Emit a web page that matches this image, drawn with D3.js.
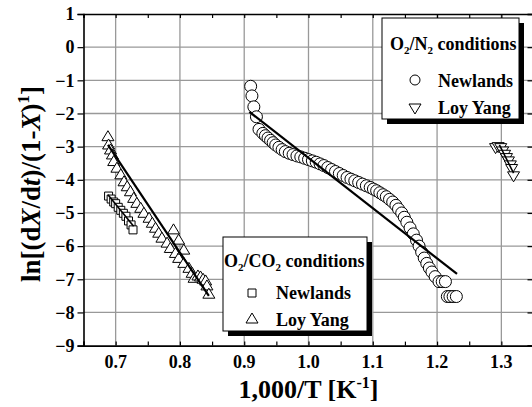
<!DOCTYPE html>
<html>
<head>
<meta charset="utf-8">
<script src="https://cdn.jsdelivr.net/npm/d3@7"></script>
<style>
  body { margin: 0; background: #fff; }
  svg text { font-family: "Liberation Serif", "Times New Roman", serif; font-weight: bold; }
</style>
</head>
<body>
<svg id="chart" width="532" height="407"></svg>
<script>
// ---- data ----
// O2/N2, Newlands (circles)
let n2NewX = [0.910, 0.912, 0.915, 0.919, 0.923, 0.929, 0.933, 0.937, 0.941, 0.945, 0.949, 0.954, 0.959, 0.964,
              0.970, 0.976, 0.982, 0.988, 0.994, 1.000, 1.006, 1.012, 1.018, 1.024, 1.030, 1.036, 1.042, 1.048,
              1.054, 1.060, 1.066, 1.072, 1.078, 1.084, 1.090, 1.096, 1.101, 1.106, 1.111, 1.116, 1.121, 1.126,
              1.131, 1.136, 1.140, 1.145, 1.149, 1.153, 1.158, 1.163, 1.168, 1.172, 1.176, 1.180, 1.184, 1.188,
              1.192, 1.197, 1.203, 1.208, 1.213, 1.216, 1.220, 1.225, 1.230];
let n2NewY = [-1.18, -1.47, -1.80, -2.10, -2.48, -2.60, -2.67, -2.74, -2.81, -2.88, -2.95, -3.02, -3.09, -3.15,
              -3.20, -3.24, -3.28, -3.31, -3.35, -3.39, -3.43, -3.47, -3.52, -3.57, -3.63, -3.69, -3.75, -3.81,
              -3.87, -3.93, -3.98, -4.03, -4.08, -4.13, -4.18, -4.23, -4.28, -4.33, -4.39, -4.45, -4.51, -4.59,
              -4.67, -4.77, -4.88, -5.00, -5.13, -5.28, -5.45, -5.63, -5.82, -6.00, -6.18, -6.36, -6.52, -6.66,
              -6.78, -6.92, -7.07, -7.07, -7.07, -7.52, -7.52, -7.52, -7.52];

// O2/N2, Loy Yang (down triangles)
let n2LoyX = [1.291, 1.295, 1.299, 1.302, 1.305, 1.308, 1.311, 1.314, 1.316, 1.319];
let n2LoyY = [-3.03, -3.00, -3.03, -3.13, -3.23, -3.33, -3.43, -3.55, -3.66, -3.88];

// O2/CO2, Newlands (squares)
let co2NewX = [0.689, 0.693, 0.697, 0.700, 0.704, 0.708, 0.712, 0.716, 0.720, 0.724, 0.727];
let co2NewY = [-4.49, -4.58, -4.67, -4.72, -4.83, -4.92, -5.01, -5.10, -5.24, -5.36, -5.51];

// O2/CO2, Loy Yang (up triangles)
let co2LoyX = [0.688, 0.689, 0.692, 0.695, 0.697, 0.702, 0.708, 0.713, 0.718, 0.723, 0.728, 0.733, 0.739,
               0.744, 0.752, 0.757, 0.762, 0.767, 0.772, 0.780, 0.785, 0.790, 0.793, 0.798, 0.798, 0.806,
               0.806, 0.814, 0.819, 0.822, 0.828, 0.832, 0.836, 0.840, 0.842, 0.845];
let co2LoyY = [-2.70, -2.95, -3.10, -3.25, -3.45, -3.65, -3.85, -4.06, -4.21, -4.36, -4.56, -4.71, -4.86,
               -5.01, -5.16, -5.31, -5.46, -5.61, -5.76, -5.91, -6.07, -5.51, -6.22, -5.82, -6.37, -6.12,
               -6.52, -6.67, -6.82, -6.97, -6.90, -6.93, -7.00, -7.05, -7.20, -7.45];

// fitted lines [x0, x1], [y0, y1]
let fitN2NewX = [0.908, 1.231], fitN2NewY = [-1.95, -6.84];
let fitN2LoyX = [1.297, 1.319], fitN2LoyY = [-2.95, -3.80];
let fitCo2NewX = [0.688, 0.728], fitCo2NewY = [-4.45, -5.40];
let fitCo2LoyX = [0.688, 0.845], fitCo2LoyY = [-2.95, -7.50];

let xLabelTicks = [0.7, 0.8, 0.9, 1.0, 1.1, 1.2, 1.3];
let xMinorTicks = [0.65, 0.7, 0.75, 0.8, 0.85, 0.9, 0.95, 1.0, 1.05, 1.1, 1.15, 1.2, 1.25, 1.3];
let yTicks = [1, 0, -1, -2, -3, -4, -5, -6, -7, -8, -9];

// ---- drawing ----
let svg = d3.select('#chart');

let margL = 83.5;
let margR = 533.5;
let margT = 14;
let margB = 345.6;

let xScale = d3.scaleLinear().domain([0.65, 1.35]).range([margL, margR]);
let yScale = d3.scaleLinear().domain([-9, 1]).range([margB, margT]);

// grid lines
let grid = svg.append('g').attr('class', 'grid');
grid.selectAll('.vgrid')
    .data(xLabelTicks)
    .enter()
    .append('line')
    .attr('x1', d => xScale(d)).attr('x2', d => xScale(d))
    .attr('y1', margT).attr('y2', margB)
    .attr('stroke', '#999').attr('stroke-width', 1.3);
grid.selectAll('.hgrid')
    .data(yTicks.filter(d => d > -9 && d < 1))
    .enter()
    .append('line')
    .attr('x1', margL).attr('x2', margR)
    .attr('y1', d => yScale(d)).attr('y2', d => yScale(d))
    .attr('stroke', '#999').attr('stroke-width', 1.3);

// axes
let leftAxis = d3.axisLeft(yScale).tickValues(yTicks).tickSize(6).tickPadding(3);
let gLeft = svg.append('g').attr('transform', `translate(${margL},0)`).call(leftAxis);
gLeft.selectAll('text').style('font-size', '18px').attr('fill', '#000');

let rightAxis = d3.axisLeft(yScale).tickValues(yTicks).tickSize(6).tickFormat('');
svg.append('g').attr('transform', `translate(${margR},0)`).call(rightAxis);

let bottomAxis = d3.axisBottom(xScale).tickValues(xMinorTicks).tickSize(-4).tickFormat('');
svg.append('g').attr('transform', `translate(0,${margB})`).call(bottomAxis);

let topAxis = d3.axisTop(xScale).tickValues(xMinorTicks).tickSize(-4).tickFormat('');
svg.append('g').attr('transform', `translate(0,${margT})`).call(topAxis);

svg.selectAll('.domain').attr('stroke', '#000').attr('stroke-width', 1.6);
svg.selectAll('.tick line').attr('stroke', '#000').attr('stroke-width', 1.2);

// x tick labels
svg.append('g').selectAll('text')
    .data(xLabelTicks)
    .enter()
    .append('text')
    .attr('x', d => xScale(d))
    .attr('y', 368)
    .attr('text-anchor', 'middle')
    .style('font-size', '18px')
    .text(d => d.toFixed(1));

// axis titles
let xTitle = svg.append('text')
    .attr('x', 308.5).attr('y', 398)
    .attr('text-anchor', 'middle')
    .style('font-size', '26px');
xTitle.append('tspan').text('1,000/T [K');
xTitle.append('tspan').attr('dy', -10).style('font-size', '16px').text('-1');
xTitle.append('tspan').attr('dy', 10).text(']');

let yTitle = svg.append('text')
    .attr('transform', 'translate(40,282) rotate(-90)')
    .attr('text-anchor', 'start')
    .style('font-size', '27px');
yTitle.append('tspan').text('ln[(d');
yTitle.append('tspan').style('font-style', 'italic').text('X');
yTitle.append('tspan').text('/d');
yTitle.append('tspan').style('font-style', 'italic').text('t');
yTitle.append('tspan').text(')/(1-');
yTitle.append('tspan').style('font-style', 'italic').text('X');
yTitle.append('tspan').text(')');
yTitle.append('tspan').attr('dy', -11).style('font-size', '17px').text('1');
yTitle.append('tspan').attr('dy', 11).text(']');

// markers
let triUp = 'M0,-6L6,4L-6,4Z';
let triDown = 'M0,6L6,-4L-6,-4Z';
let square = 'M-4,-4L4,-4L4,4L-4,4Z';

function zipPts(xs, ys) {
    return xs.map((x, i) => ({x: x, y: ys[i]}));
}

let marks = svg.append('g').attr('class', 'marks');

function drawPath(data, pathD) {
    marks.append('g').selectAll('path')
        .data(data)
        .enter()
        .append('path')
        .attr('d', pathD)
        .attr('transform', d => `translate(${xScale(d.x)},${yScale(d.y)})`)
        .attr('fill', '#fff')
        .attr('stroke', '#000')
        .attr('stroke-width', 1);
}

drawPath(zipPts(co2NewX, co2NewY), square);
drawPath(zipPts(co2LoyX, co2LoyY), triUp);
drawPath(zipPts(n2LoyX, n2LoyY), triDown);

marks.append('g').selectAll('circle')
    .data(zipPts(n2NewX, n2NewY))
    .enter()
    .append('circle')
    .attr('cx', d => xScale(d.x))
    .attr('cy', d => yScale(d.y))
    .attr('r', 6)
    .attr('fill', '#fff')
    .attr('stroke', '#000')
    .attr('stroke-width', 1);

// fit lines
let fits = [[fitN2NewX, fitN2NewY, 2.2], [fitN2LoyX, fitN2LoyY, 1.6],
            [fitCo2NewX, fitCo2NewY, 1.6], [fitCo2LoyX, fitCo2LoyY, 2.2]];
fits.forEach(function(f) {
    svg.append('line')
        .attr('x1', xScale(f[0][0])).attr('x2', xScale(f[0][1]))
        .attr('y1', yScale(f[1][0])).attr('y2', yScale(f[1][1]))
        .attr('stroke', '#000')
        .attr('stroke-width', f[2]);
});

// legends
function drawLegend(bx, by, bw, bh, title, gas, items) {
    let g = svg.append('g');
    g.append('rect').attr('x', bx + 5).attr('y', by + 5).attr('width', bw).attr('height', bh).attr('fill', '#000');
    g.append('rect').attr('x', bx).attr('y', by).attr('width', bw).attr('height', bh)
        .attr('fill', '#fff').attr('stroke', '#000').attr('stroke-width', 1);
    let t = g.append('text').attr('x', title.x).attr('y', title.y).style('font-size', '18px');
    t.append('tspan').text('O');
    t.append('tspan').attr('dy', 4).style('font-size', '11px').text('2');
    t.append('tspan').attr('dy', -4).text('/' + gas);
    t.append('tspan').attr('dy', 4).style('font-size', '11px').text('2');
    t.append('tspan').attr('dy', -4).text(' conditions');
    items.forEach(function(it) {
        if (it.circle) {
            g.append('circle').attr('cx', it.mx).attr('cy', it.my).attr('r', 5)
                .attr('fill', '#fff').attr('stroke', '#000');
        } else {
            g.append('path').attr('d', it.path).attr('transform', `translate(${it.mx},${it.my})`)
                .attr('fill', '#fff').attr('stroke', '#000');
        }
        g.append('text').attr('x', it.tx).attr('y', it.ty).style('font-size', '18px').text(it.label);
    });
}

drawLegend(382, 18, 137, 101, {x: 390, y: 50}, 'N', [
    {circle: true, mx: 415, my: 80, tx: 438, ty: 87, label: 'Newlands'},
    {path: triDown, mx: 415, my: 108, tx: 438, ty: 114, label: 'Loy Yang'}
]);
drawLegend(223, 237, 144, 94, {x: 224, y: 267}, 'CO', [
    {path: square, mx: 252, my: 293, tx: 276, ty: 299, label: 'Newlands'},
    {path: triUp, mx: 252, my: 319, tx: 276, ty: 326, label: 'Loy Yang'}
]);
</script>
</body>
</html>
